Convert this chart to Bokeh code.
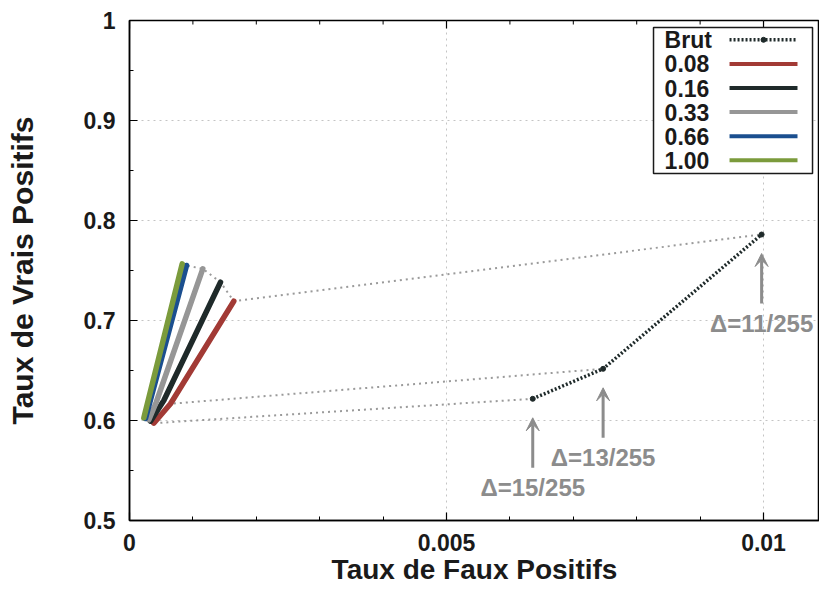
from bokeh.plotting import figure
from bokeh.models import Range1d, FixedTicker, Arrow, VeeHead, ColumnDataSource
from bokeh.core.properties import value
from bokeh.embed import file_html
from bokeh.resources import INLINE

# ---------------- data ----------------
deltas = ["Δ=15/255", "Δ=13/255", "Δ=11/255"]
brut_fpr = [0.00636, 0.00747, 0.00997]
brut_tpr = [0.6217, 0.6517, 0.7860]

series_names = ["0.08", "0.16", "0.33", "0.66", "1.00"]
fpr_008 = [0.000383, 0.000647, 0.001645]
tpr_008 = [0.5973, 0.6167, 0.7193]
fpr_016 = [0.000331, 0.000541, 0.001435]
tpr_016 = [0.5993, 0.6200, 0.7383]
fpr_033 = [0.000304, 0.000420, 0.001156]
tpr_033 = [0.6007, 0.6180, 0.7517]
fpr_066 = [0.000252, 0.000269, 0.000899]
tpr_066 = [0.6020, 0.6060, 0.7550]
fpr_100 = [0.000226, 0.000239, 0.000831]
tpr_100 = [0.6027, 0.6060, 0.7567]

x_ticks = [0, 0.005, 0.01]
x_tick_labels = ["0", "0.005", "0.01"]
x_minor = [0.001, 0.002, 0.003, 0.004, 0.006, 0.007, 0.008, 0.009, 0.010]
y_ticks = [0.5, 0.6, 0.7, 0.8, 0.9, 1.0]
y_tick_labels = ["0.5", "0.6", "0.7", "0.8", "0.9", "1"]
y_minor = [0.55, 0.65, 0.75, 0.85, 0.95]

# ---------------- style ----------------
FONT = "Liberation Sans"
colors = {"0.08": "#a23a35", "0.16": "#1f2a2a", "0.33": "#969696",
          "0.66": "#1b4f8f", "1.00": "#7b9b3c"}
BRUT_COLOR = "#1f2a2a"
CONN_COLOR = "#9a9a9a"
ANN_COLOR = "#8c8c8c"

series = {
    "0.08": (fpr_008, tpr_008),
    "0.16": (fpr_016, tpr_016),
    "0.33": (fpr_033, tpr_033),
    "0.66": (fpr_066, tpr_066),
    "1.00": (fpr_100, tpr_100),
}

X_MAX = 0.010883
Y_MIN, Y_MAX = 0.5, 1.0

p = figure(frame_width=690, frame_height=500,
           min_border_left=129, min_border_right=0, min_border_top=20, min_border_bottom=71,
           x_range=Range1d(0, X_MAX), y_range=Range1d(Y_MIN, Y_MAX),
           output_backend="svg", toolbar_location=None)
p.background_fill_color = "white"
p.border_fill_color = "white"
p.outline_line_color = "black"
p.outline_line_width = 1.5

xt = FixedTicker(ticks=x_ticks, minor_ticks=x_minor)
yt = FixedTicker(ticks=y_ticks, minor_ticks=y_minor)
p.xaxis.ticker = xt
p.yaxis.ticker = yt
p.xaxis.major_label_overrides = dict(zip(x_ticks, x_tick_labels))
p.yaxis.major_label_overrides = dict(zip(y_ticks, y_tick_labels))

for ax in (p.xaxis, p.yaxis):
    ax.axis_line_color = "black"
    ax.axis_line_width = 1.5
    ax.major_tick_in = 8
    ax.major_tick_out = 0
    ax.minor_tick_in = 4
    ax.minor_tick_out = 0
    ax.major_tick_line_width = 1.2
    ax.major_label_text_font = FONT
    ax.major_label_text_font_style = "bold"
    ax.major_label_text_color = "#1a1a1a"
    ax.major_label_text_font_size = "23px"
    ax.axis_label_text_font = FONT
    ax.axis_label_text_font_style = "bold"
    ax.axis_label_text_color = "#1a1a1a"

p.xaxis.axis_label = "Taux de Faux Positifs"
p.yaxis.axis_label = "Taux de Vrais Positifs"
p.xaxis.axis_label_text_font_size = "28px"
p.yaxis.axis_label_text_font_size = "30px"
p.xaxis.major_label_standoff = 13
p.xaxis.axis_label_standoff = 0
p.yaxis.major_label_standoff = 14
p.yaxis.axis_label_standoff = 42

# inward ticks along the top edge (mirror of the bottom axis)
major_len, minor_len = 0.008, 0.004
p.segment(x0=x_ticks, y0=[Y_MAX] * len(x_ticks), x1=x_ticks,
          y1=[Y_MAX - major_len] * len(x_ticks), line_color="black", line_width=1.2)
p.segment(x0=x_minor, y0=[Y_MAX] * len(x_minor), x1=x_minor,
          y1=[Y_MAX - minor_len] * len(x_minor), line_color="black", line_width=1)

p.xgrid.ticker = FixedTicker(ticks=x_ticks[1:])
p.ygrid.ticker = FixedTicker(ticks=y_ticks[1:-1])
for g in (p.xgrid, p.ygrid):
    g.grid_line_color = "#c4c4c4"
    g.grid_line_dash = "2 4"
    g.grid_line_width = 1

# connecting dotted lines (same delta across series, then to raw point)
order = ["1.00", "0.66", "0.33", "0.16", "0.08"]
for i in range(len(deltas)):
    xs = [series[k][0][i] for k in order] + [brut_fpr[i]]
    ys = [series[k][1][i] for k in order] + [brut_tpr[i]]
    p.line(xs, ys, line_color=CONN_COLOR, line_width=2, line_dash="2 4")

# colored curves
for k in ["0.08", "0.16", "0.33", "0.66", "1.00"]:
    fx, fy = series[k]
    p.line(fx, fy, line_color=colors[k], line_width=5.5, line_cap="round", line_join="round")

# raw curve
p.line(brut_fpr, brut_tpr, line_color=BRUT_COLOR, line_width=3.5, line_dash="2 2")
p.scatter(brut_fpr, brut_tpr, size=5, color=BRUT_COLOR)

# arrows and annotations
tips = [t - 0.019 for t in brut_tpr]
tails = [t - 0.05 for t in tips]
ann_y = [t - 0.089 for t in brut_tpr]
asrc = ColumnDataSource(dict(x=brut_fpr, y0=tails, y1=tips))
p.add_layout(Arrow(source=asrc, x_start="x", y_start="y0", x_end="x", y_end="y1",
                   line_color=ANN_COLOR, line_width=3,
                   end=VeeHead(size=13, fill_color=ANN_COLOR, line_color=ANN_COLOR, line_width=1)))
p.text(x=brut_fpr, y=ann_y, text=deltas, text_font=value(FONT), text_font_style="bold",
       text_font_size="24px", text_color=ANN_COLOR, text_align="center", text_baseline="middle")

# custom legend (label on the left, sample line on the right)
leg_box = dict(left=0.008265, right=0.010773, top=0.993, bottom=0.847)
leg_text_x = 0.00844
leg_line_x = [0.009464, 0.010536]
leg_y0, leg_step = 0.9807, 0.0241
legend_labels = ["Brut"] + series_names
p.quad(left=[leg_box["left"]], right=[leg_box["right"]], top=[leg_box["top"]],
       bottom=[leg_box["bottom"]], fill_color="white", line_color="#1a1a1a", line_width=1.5)
leg_ys = [leg_y0 - i * leg_step for i in range(len(legend_labels))]
p.text(x=[leg_text_x] * len(legend_labels), y=leg_ys, text=legend_labels,
       text_font=value(FONT), text_font_style="bold", text_font_size="23px",
       text_color="#1a1a1a", text_align="left", text_baseline="middle")
for lab, ly in zip(legend_labels, leg_ys):
    if lab == "Brut":
        p.line(leg_line_x, [ly, ly], line_color=BRUT_COLOR, line_width=3.5, line_dash="2 2")
        p.scatter([sum(leg_line_x) / 2], [ly], size=5, color=BRUT_COLOR)
    else:
        p.line(leg_line_x, [ly, ly], line_color=colors[lab], line_width=4)

open("out.html", "w").write(file_html(p, INLINE))
